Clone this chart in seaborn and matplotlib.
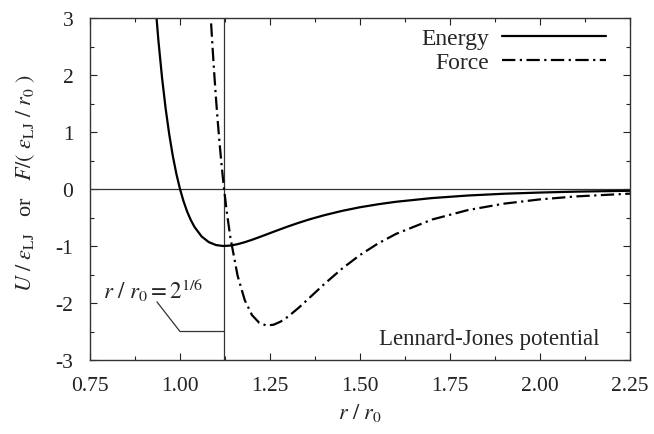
import seaborn as sns
import matplotlib.pyplot as plt
from matplotlib.ticker import MultipleLocator, FormatStrFormatter

# Lennard-Jones energy, values
r_energy = [0.93, 0.94, 0.95, 0.96, 0.97, 0.98, 0.99, 1.00, 1.01, 1.02, 1.03,
            1.04, 1.06, 1.08, 1.10, 1.12, 1.14, 1.16, 1.18, 1.20, 1.22, 1.24,
            1.26, 1.28, 1.30, 1.33, 1.36, 1.40, 1.45, 1.50, 1.55, 1.60, 1.70,
            1.80, 1.90, 2.00, 2.10, 2.25]
energy = [3.373, 2.607, 1.961, 1.418, 0.963, 0.582, 0.264, 0.0, -0.218, -0.398, -0.544,
          -0.663, -0.832, -0.932, -0.983, -1.000, -0.992, -0.968, -0.933, -0.891, -0.845, -0.798,
          -0.750, -0.703, -0.657, -0.592, -0.532, -0.461, -0.384, -0.320, -0.268, -0.224, -0.159,
          -0.114, -0.083, -0.062, -0.046, -0.031]

# Lennard-Jones force
r_force = [1.08, 1.085, 1.09, 1.095, 1.10, 1.105, 1.11, 1.115, 1.12, 1.1225, 1.13,
           1.14, 1.16, 1.18, 1.20, 1.22, 1.24, 1.26, 1.28, 1.30, 1.33, 1.36,
           1.40, 1.45, 1.50, 1.55, 1.60, 1.70, 1.80, 1.90, 2.00, 2.10, 2.25]
force = [3.646, 3.063, 2.528, 2.037, 1.588, 1.177, 0.801, 0.457, 0.144, 0.0, -0.402,
         -0.852, -1.521, -1.952, -2.212, -2.347, -2.395, -2.381, -2.325, -2.240, -2.082, -1.907,
         -1.672, -1.398, -1.158, -0.956, -0.788, -0.536, -0.369, -0.257, -0.182, -0.130, -0.081]

r_min = 2 ** (1 / 6)

sns.set_style("ticks")
plt.rcParams['font.family'] = ['Liberation Serif', 'DejaVu Serif']
plt.rcParams['mathtext.fontset'] = 'stix'
plt.rcParams['axes.unicode_minus'] = False
plt.rcParams['font.size'] = 15

fig = plt.figure(figsize=(6.54, 4.35), dpi=100)
ax = fig.add_axes([0.1376, 0.1701, 0.8257, 0.7862])

ax.axhline(0, color='#333333', lw=0.9, zorder=1)
ax.axvline(r_min, color='#333333', lw=0.9, zorder=1)

sns.lineplot(x=r_energy, y=energy, ax=ax, color='black', lw=1.6,
             errorbar=None, label='Energy')
sns.lineplot(x=r_force, y=force, ax=ax, color='black', lw=1.6,
             errorbar=None, label='Force', dashes=False,
             linestyle=(0, (6, 2, 1, 2)))

ax.set_xlim(0.75, 2.25)
ax.set_ylim(-3, 3)
ax.xaxis.set_major_locator(MultipleLocator(0.25))
ax.xaxis.set_minor_locator(MultipleLocator(0.125))
ax.xaxis.set_major_formatter(FormatStrFormatter('%.2f'))
ax.yaxis.set_major_locator(MultipleLocator(1))
ax.yaxis.set_minor_locator(MultipleLocator(0.5))
ax.tick_params(which='both', direction='in', top=True, right=True,
               labelsize=15.5, colors='#222222')
ax.tick_params(which='major', length=5, width=0.8)
ax.tick_params(which='minor', length=3, width=0.8)
ax.tick_params(axis='x', which='major', pad=11.5)
ax.tick_params(axis='y', which='major', pad=12)
for s in ax.spines.values():
    s.set_color('#333333')
    s.set_linewidth(1.0)

ax.set_xlabel(r'$r\ /\ r_0$', fontsize=16, labelpad=4)
ax.set_ylabel(r'$U\ /\ \varepsilon_{\rm LJ}$   or   $F/(\ \varepsilon_{\rm LJ}\ /\ r_0\ )$',
              fontsize=16)
ax.yaxis.set_label_coords(-0.098, 0.519)

# annotation of the minimum position
ax.text(0.786, -1.75, r'$r\ /\ r_0 = 2^{1/6}$', fontsize=16.5, va='center', ha='left')
ax.plot([0.936, 1.0, r_min], [-1.98, -2.5, -2.5], color='#333333', lw=0.9)

ax.text(0.944, 0.064, 'Lennard-Jones potential', transform=ax.transAxes,
        ha='right', va='center', fontsize=16.5)

ax.legend(loc='upper right', bbox_to_anchor=(0.99, 1.027), frameon=False,
          markerfirst=False, handlelength=4.4, handletextpad=0.55,
          labelspacing=0.1, borderaxespad=0.4, fontsize=17)

fig.savefig('out.png', dpi=100)
